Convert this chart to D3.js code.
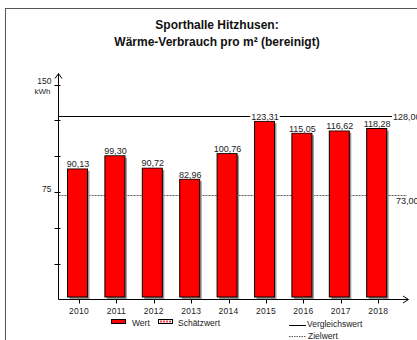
<!DOCTYPE html>
<html>
<head>
<meta charset="utf-8">
<script src="https://cdn.jsdelivr.net/npm/d3@7"></script>
<style>
html,body{margin:0;padding:0;background:#fff;}
svg{display:block;font-family:"Liberation Sans",Arial,sans-serif;}
</style>
</head>
<body>
<svg id="chart" width="417" height="340"></svg>
<script>
const years = ["2010","2011","2012","2013","2014","2015","2016","2017","2018"];
const values = [90.13, 99.30, 90.72, 82.96, 100.76, 123.31, 115.05, 116.62, 118.28];
const valueLabels = ["90,13","99,30","90,72","82,96","100,76","123,31","115,05","116,62","118,28"];
const yTicks = [25, 50, 75, 100, 125, 150];
const yTickLabels = [{v:75,t:"75"},{v:150,t:"150"}];
const vergleichswert = 128.00;
const zielwert = 73.00;
const refLabels = ["128,00","73,00"];
const titleLines = ["Sporthalle Hitzhusen:", "Wärme-Verbrauch pro m² (bereinigt)"];

const svg = d3.select("#chart");

// frame
svg.append("rect").attr("x",5.5).attr("y",8.5).attr("width",420).attr("height",340)
  .attr("fill","none").attr("stroke","#555").attr("stroke-width",1);

// title
svg.append("g").selectAll("text").data(titleLines).join("text")
  .attr("x",217).attr("y",(d,i)=>29+i*16.5)
  .attr("text-anchor","middle").attr("font-weight","bold").attr("font-size","12px")
  .attr("fill","#111").text(d=>d);

const x0 = 58.5, yBase = 299.5;
const x = d3.scaleBand().domain(years).range([60.3, 396.9]).padding(0);
const y = d3.scaleLinear().domain([0,150]).range([yBase, 84.5]);
const barW = 20;
const cx = d => x(d) + x.bandwidth()/2;

// reference lines
svg.append("line").attr("x1",x0).attr("x2",392).attr("y1",Math.round(y(vergleichswert))+0.5).attr("y2",Math.round(y(vergleichswert))+0.5)
  .attr("stroke","#000").attr("stroke-width",1.2);
svg.append("line").attr("x1",x0).attr("x2",407).attr("y1",Math.round(y(zielwert))+0.5).attr("y2",Math.round(y(zielwert))+0.5)
  .attr("stroke","#333").attr("stroke-width",0.8).attr("stroke-dasharray","2,1");

// bars: shadow + body
const bars = svg.append("g");
bars.selectAll("rect.sh").data(values).join("rect").attr("class","sh")
  .attr("x",(d,i)=>cx(years[i]) - barW/2 + 0.5)
  .attr("y",d=>y(d)+0.5).attr("width",barW).attr("height",d=>yBase - y(d) - 1)
  .attr("fill","#999");
bars.selectAll("rect.b").data(values).join("rect").attr("class","b")
  .attr("x",(d,i)=>cx(years[i]) - barW/2 - 1.5)
  .attr("y",d=>y(d)-1.5).attr("width",barW).attr("height",d=>yBase - y(d) - 1)
  .attr("fill","#ff0000").attr("stroke","#000").attr("stroke-width",1);

// value labels with white background
const lab = svg.append("g");
values.forEach((v,i)=>{
  const g = lab.append("g");
  const t = g.append("text").attr("x",cx(years[i]) - 1).attr("y",y(v)-3)
    .attr("text-anchor","middle").attr("font-size","9px").attr("fill","#222").text(valueLabels[i]);
  const bb = t.node().getBBox();
  g.insert("rect","text").attr("x",bb.x-1).attr("y",bb.y+1).attr("width",bb.width+2).attr("height",bb.height-2).attr("fill","#fff");
});

// ref labels
svg.append("text").attr("x",393).attr("y",y(vergleichswert)+4).attr("font-size","9px").attr("fill","#222").text(refLabels[0]);
svg.append("text").attr("x",396).attr("y",y(zielwert)+9).attr("font-size","9px").attr("fill","#222").text(refLabels[1]);

// y axis
svg.append("line").attr("x1",x0).attr("x2",x0).attr("y1",yBase).attr("y2",74).attr("stroke","#000");
svg.append("path").attr("d",`M${x0-3.5},78.5 L${x0},73.5 L${x0+3.5},78.5`).attr("fill","none").attr("stroke","#000");
svg.append("g").selectAll("line").data(yTicks).join("line")
  .attr("x1",x0-4).attr("x2",x0+2).attr("y1",d=>Math.round(y(d))+0.5).attr("y2",d=>Math.round(y(d))+0.5).attr("stroke","#000");
svg.append("g").selectAll("text").data(yTickLabels).join("text")
  .attr("x",x0-7).attr("y",d=>y(d.v)-0.5).attr("text-anchor","end").attr("font-size","8.5px").attr("fill","#222").text(d=>d.t);
svg.append("text").attr("x",x0-8).attr("y",y(150)+9).attr("text-anchor","end").attr("font-size","8px").attr("fill","#222").text("kWh");

// x axis
svg.append("line").attr("x1",x0).attr("x2",408).attr("y1",yBase).attr("y2",yBase).attr("stroke","#000");
svg.append("path").attr("d",`M403,${yBase-3.5} L408.5,${yBase} L403,${yBase+3.5}`).attr("fill","none").attr("stroke","#000");
svg.append("g").selectAll("line").data(years).join("line")
  .attr("x1",d=>Math.round(cx(d))+0.5).attr("x2",d=>Math.round(cx(d))+0.5).attr("y1",yBase).attr("y2",yBase+4).attr("stroke","#000");
svg.append("g").selectAll("text").data(years).join("text")
  .attr("x",d=>cx(d)).attr("y",yBase+14).attr("text-anchor","middle").attr("font-size","8.5px").attr("letter-spacing","0.3px").attr("fill","#222").text(d=>d);

// legend
const lg = svg.append("g").attr("font-size","8.5px").attr("fill","#222");
lg.append("rect").attr("x",111.5).attr("y",319.5).attr("width",14).attr("height",4).attr("fill","#ff0000").attr("stroke","#000");
lg.append("text").attr("x",132).attr("y",326).text("Wert");
lg.append("rect").attr("x",158.5).attr("y",319.5).attr("width",14).attr("height",4).attr("fill","#fff").attr("stroke","#000");
lg.append("line").attr("x1",160).attr("x2",171).attr("y1",321.5).attr("y2",321.5).attr("stroke","#ff4040").attr("stroke-width",2).attr("stroke-dasharray","2,1");
lg.append("text").attr("x",178).attr("y",326).text("Schätzwert");
lg.append("line").attr("x1",289).attr("x2",306).attr("y1",325.5).attr("y2",325.5).attr("stroke","#000");
lg.append("text").attr("x",307).attr("y",326.5).text("Vergleichswert");
lg.append("line").attr("x1",289).attr("x2",306).attr("y1",336.5).attr("y2",336.5).attr("stroke","#333").attr("stroke-width",0.8).attr("stroke-dasharray","1.5,1");
lg.append("text").attr("x",308).attr("y",338.5).text("Zielwert");
</script>
</body>
</html>
